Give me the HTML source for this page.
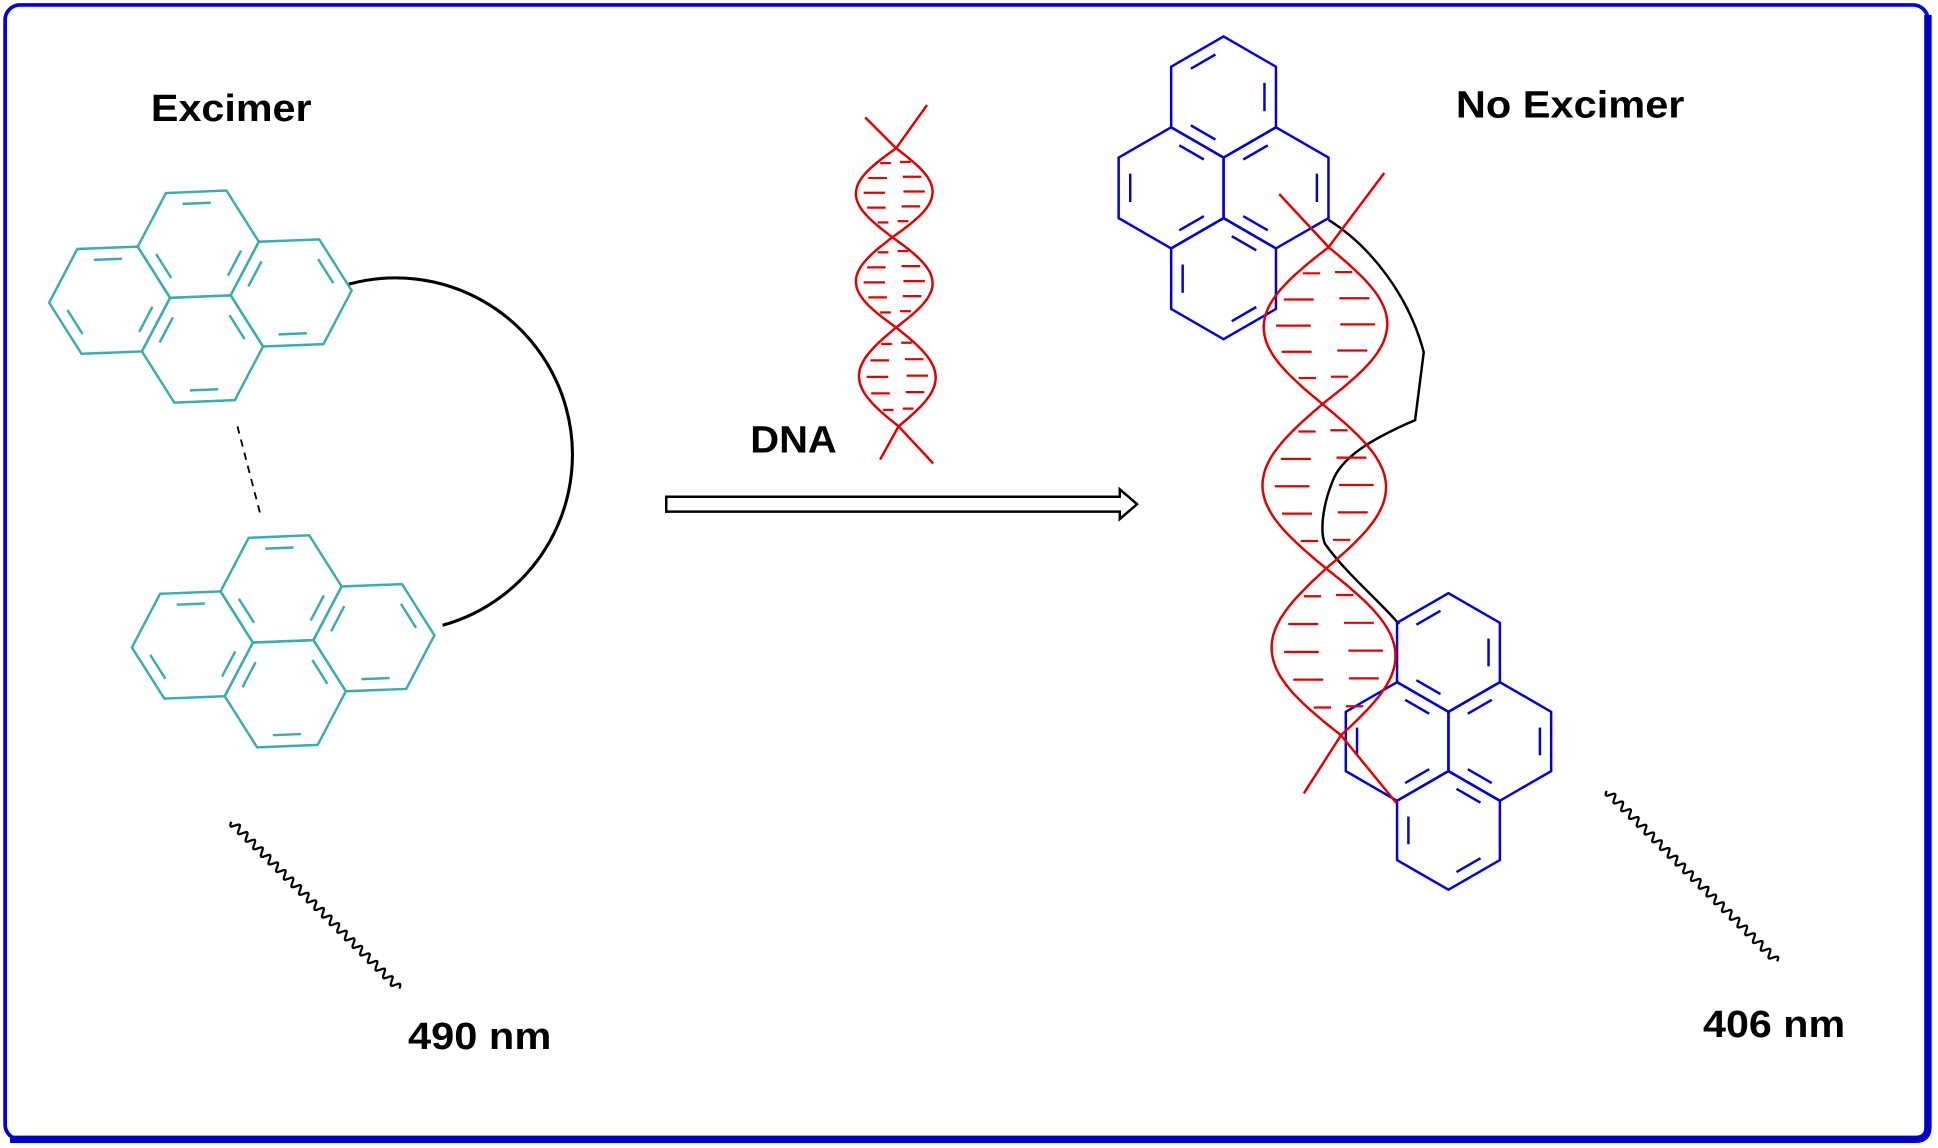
<!DOCTYPE html>
<html><head><meta charset="utf-8"><style>
html,body{margin:0;padding:0;background:#fff;}
svg{display:block}
text{font-family:"Liberation Sans",Arial,sans-serif;font-weight:bold;fill:#000}
</style></head><body>
<svg id="s" width="1938" height="1148" viewBox="0 0 1568 929" xmlns="http://www.w3.org/2000/svg">
<rect x="4" y="4" width="1556" height="918" rx="12" fill="#fff" stroke="#0000dd" stroke-width="3"/>
<path d="M8 922 H1550 Q1560 922 1560 912 V12" fill="none" stroke="#0000cc" stroke-width="6"/>
<text x="122" y="98" font-size="31" textLength="130" lengthAdjust="spacingAndGlyphs">Excimer</text>
<text x="1178" y="95" font-size="31" textLength="185" lengthAdjust="spacingAndGlyphs">No Excimer</text>
<text x="607" y="366" font-size="31" textLength="70" lengthAdjust="spacingAndGlyphs">DNA</text>
<text x="330" y="849" font-size="31" textLength="116" lengthAdjust="spacingAndGlyphs">490 nm</text>
<text x="1378" y="839" font-size="31" textLength="115" lengthAdjust="spacingAndGlyphs">406 nm</text>
<path d="M282 230 A140 140 0 0 1 358 506" fill="none" stroke="#000" stroke-width="2.5"/>
<line x1="192" y1="345" x2="211" y2="418" stroke="#000" stroke-width="1.5" stroke-dasharray="6,5"/>
<path d="M539 402 H906 V396 L920 408 L906 420 V414 H539 Z" fill="#fff" stroke="#000" stroke-width="2"/>
<path d="M1075 178 C1110 200 1140 240 1152 285 L1145 340 C1110 355 1085 370 1078 390 C1070 410 1068 430 1072 440 C1090 465 1115 485 1132 505" fill="none" stroke="#000" stroke-width="2"/>
<g id="g"></g>
</svg>
<script>
var g=document.getElementById('g'),out='';
function pyrene(cx,cy,s,rot,col){
 var r3=Math.sqrt(3);
 var rings=[[0,-r3/2*s],[0,r3/2*s],[-1.5*s,0],[1.5*s,0]];
 var c=Math.cos(rot),sn=Math.sin(rot);
 function tr(x,y){return [cx+x*c-y*sn,cy+x*sn+y*c];}
 rings.forEach(function(rc,ri){
  var pts=[];
  for(var k=0;k<6;k++){var a=k*Math.PI/3;pts.push([rc[0]+s*Math.cos(a),rc[1]+s*Math.sin(a)]);}
  var d='M'+pts.map(function(p){var q=tr(p[0],p[1]);return q[0].toFixed(1)+' '+q[1].toFixed(1);}).join(' L')+'Z';
  out+='<path d="'+d+'" fill="none" stroke="'+col+'" stroke-width="2"/>';
  for(var k=ri%2;k<6;k+=2){
   var p1=pts[k],p2=pts[(k+1)%6];
   var f=0.78,sh=0.2;
   var a1=[rc[0]+(p1[0]-rc[0])*f,rc[1]+(p1[1]-rc[1])*f],a2=[rc[0]+(p2[0]-rc[0])*f,rc[1]+(p2[1]-rc[1])*f];
   var b1=[a1[0]+(a2[0]-a1[0])*sh,a1[1]+(a2[1]-a1[1])*sh],b2=[a2[0]+(a1[0]-a2[0])*sh,a2[1]+(a1[1]-a2[1])*sh];
   var q1=tr(b1[0],b1[1]),q2=tr(b2[0],b2[1]);
   out+='<line x1="'+q1[0]+'" y1="'+q1[1]+'" x2="'+q2[0]+'" y2="'+q2[1]+'" stroke="'+col+'" stroke-width="2"/>';
  }
 });
}
pyrene(162,240,49,-0.04,'#3aadad');
pyrene(229,519,49,-0.04,'#3aadad');
pyrene(990,152,49,Math.PI/2,'#0000dd');
pyrene(1172,600,48,Math.PI/2,'#0000dd');
function wave(x1,y1,x2,y2,n,amp){
 var dx=x2-x1,dy=y2-y1,L=Math.hypot(dx,dy),ux=dx/L,uy=dy/L,d='';
 for(var i=0;i<=400;i++){var t=i/400*L,w=amp*Math.sin(t/L*n*2*Math.PI);
  d+=(i?'L':'M')+(x1+ux*t-uy*w).toFixed(1)+' '+(y1+uy*t+ux*w).toFixed(1);}
 out+='<path d="'+d+'" fill="none" stroke="#000" stroke-width="1.8"/>';
}
wave(187,665,323,800,22,3);
wave(1300,640,1438,778,22,3);
function dna(nodes,amp,ext){
 var col='#e00000',s1='',s2='';
 for(var i=0;i<nodes.length-1;i++){
  var a=nodes[i],b=nodes[i+1],N=40;
  for(var j=0;j<=N;j++){var t=j/N,x=a[0]+(b[0]-a[0])*t,y=a[1]+(b[1]-a[1])*t,w=amp*Math.sin(Math.PI*t)*(i%2?-1:1);
   s1+=((i||j)?'L':'M')+(x+w).toFixed(1)+' '+y.toFixed(1);
   s2+=((i||j)?'L':'M')+(x-w).toFixed(1)+' '+y.toFixed(1);}
  var h=b[1]-a[1];
  for(var k=1;k<=5;k++){var t=k/6,y=a[1]+h*t,x=a[0]+(b[0]-a[0])*t,w=amp*Math.sin(Math.PI*t)*0.8;
   out+='<line x1="'+(x-w)+'" y1="'+y+'" x2="'+(x-w*0.3)+'" y2="'+y+'" stroke="'+col+'" stroke-width="1.8"/>';
   out+='<line x1="'+(x+w*0.3)+'" y1="'+(y-1)+'" x2="'+(x+w)+'" y2="'+(y-1)+'" stroke="'+col+'" stroke-width="1.8"/>';}
 }
 out+='<path d="'+s1+'" fill="none" stroke="'+col+'" stroke-width="2"/><path d="'+s2+'" fill="none" stroke="'+col+'" stroke-width="2"/>';
 ext.forEach(function(e){out+='<line x1="'+e[0]+'" y1="'+e[1]+'" x2="'+e[2]+'" y2="'+e[3]+'" stroke="'+col+'" stroke-width="2"/>';});
}
dna([[725,120],[722,192],[725,265],[727,345]],31,[[725,120,700,95],[725,120,750,85],[727,345,712,372],[727,345,755,375]]);
dna([[1075,200],[1070,327],[1073,460],[1085,595]],50,[[1075,200,1035,157],[1075,200,1120,140],[1085,595,1055,642],[1085,595,1130,650]]);
g.innerHTML=out;
</script>
</body></html>
